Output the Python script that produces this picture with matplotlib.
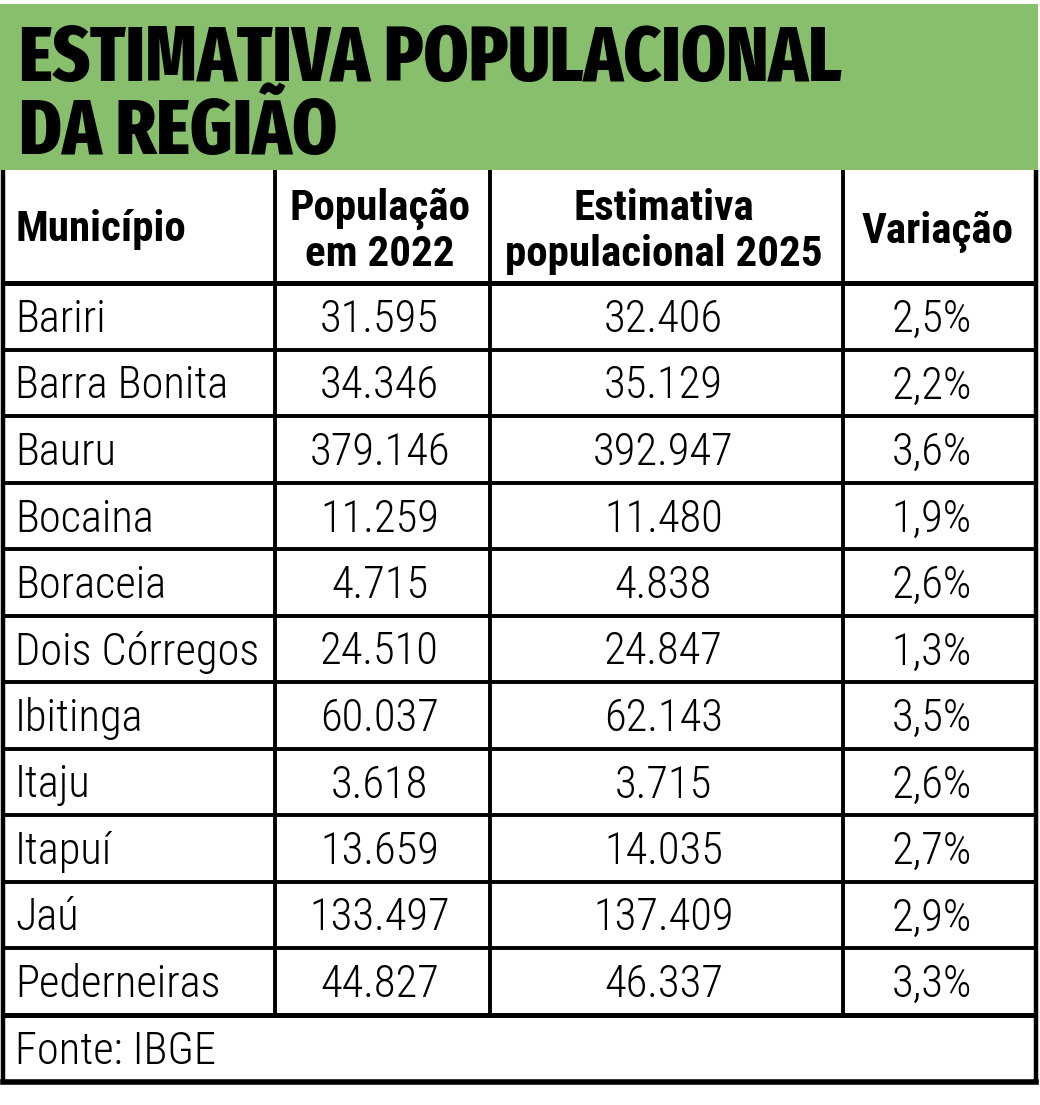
import matplotlib
matplotlib.use("Agg")
import matplotlib.pyplot as plt
from matplotlib.patches import Rectangle

# Dados da tabela (fonte: IBGE)
municipios = ["Bariri", "Barra Bonita", "Bauru", "Bocaina", "Boraceia",
              "Dois Córregos", "Ibitinga", "Itaju", "Itapuí", "Jaú", "Pederneiras"]
pop_2022 = ["31.595", "34.346", "379.146", "11.259", "4.715", "24.510",
            "60.037", "3.618", "13.659", "133.497", "44.827"]
est_2025 = ["32.406", "35.129", "392.947", "11.480", "4.838", "24.847",
            "62.143", "3.715", "14.035", "137.409", "46.337"]
variacao = ["2,5%", "2,2%", "3,6%", "1,9%", "2,6%", "1,3%",
            "3,5%", "2,6%", "2,7%", "2,9%", "3,3%"]
cabecalho = ["Município", "População", "em 2022", "Estimativa",
             "populacional 2025", "Variação"]
titulo = ["ESTIMATIVA POPULACIONAL", "DA REGIÃO"]
fonte = "Fonte: IBGE"

F_TIT = ["Fira Sans Extra Condensed", "DejaVu Sans"]
F_TAB = ["Roboto Condensed", "DejaVu Sans"]
VERDE = "#87bf6c"

W, H = 1040, 1105
fig = plt.figure(figsize=(W / 100, H / 100), dpi=100)
ax = fig.add_axes([0, 0, 1, 1])
ax.set_xlim(0, W)
ax.set_ylim(H, 0)
ax.axis("off")

# Geometria (em pixels)
x_left, x_right = 3, 1036
col_x = [275, 490, 843]
y_top_tab = 170
y_head = 283
row_h = 66.5
y_fonte = y_head + row_h * len(municipios)
y_bottom = 1082
centers = [(col_x[0] + col_x[1]) / 2 - 3, (col_x[1] + col_x[2]) / 2 - 3,
           (col_x[2] + x_right) / 2 - 8]

# Faixa do título
ax.add_patch(Rectangle((0, 4), x_right + 2, y_top_tab - 4, facecolor=VERDE, edgecolor="none"))
ax.text(19, 81, titulo[0], fontsize=56, fontweight=800, family=F_TIT, va="baseline", ha="left")
ax.text(19, 154, titulo[1], fontsize=56, fontweight=800, family=F_TIT, va="baseline", ha="left")

# Cabeçalho
hd = dict(fontsize=31, fontweight="bold", family=F_TAB, va="baseline")
ax.text(15, 241, cabecalho[0], ha="left", **hd)
ax.text(centers[0], 220, cabecalho[1], ha="center", **hd)
ax.text(centers[0], 266, cabecalho[2], ha="center", **hd)
ax.text(centers[1], 220, cabecalho[3], ha="center", **hd)
ax.text(centers[1], 266, cabecalho[4], ha="center", **hd)
ax.text(centers[2] + 6, 243, cabecalho[5], ha="center", **hd)

# Linhas de dados
dd = dict(fontsize=32, fontweight=300, family=F_TAB, va="baseline")
for i, nome in enumerate(municipios):
    yb = y_head + row_h * i + 49
    ax.text(15, yb, nome, ha="left", **dd)
    ax.text(centers[0], yb, pop_2022[i], ha="center", **dd)
    ax.text(centers[1], yb, est_2025[i], ha="center", **dd)
    ax.text(centers[2], yb, variacao[i], ha="center", **dd)

ax.text(15, y_fonte + 49, fonte, ha="left", **dd)

# Grade
lw = 2.8
for i in range(1, len(municipios)):
    y = y_head + row_h * i
    ax.plot([x_left, x_right], [y, y], color="black", lw=lw, solid_capstyle="butt")
ax.plot([x_left, x_right], [y_head, y_head], color="black", lw=3.6, solid_capstyle="butt")
ax.plot([x_left, x_right], [y_fonte, y_fonte], color="black", lw=3.6, solid_capstyle="butt")
for x in col_x:
    ax.plot([x, x], [y_top_tab, y_fonte], color="black", lw=lw, solid_capstyle="butt")
ax.plot([x_left, x_left], [y_top_tab, y_bottom], color="black", lw=3.2, solid_capstyle="butt")
ax.plot([x_right, x_right], [y_top_tab, y_bottom], color="black", lw=3.2, solid_capstyle="butt")
ax.plot([x_left, x_right], [y_bottom, y_bottom], color="black", lw=4, solid_capstyle="projecting")

fig.savefig("out.png", dpi=100, facecolor="white")
